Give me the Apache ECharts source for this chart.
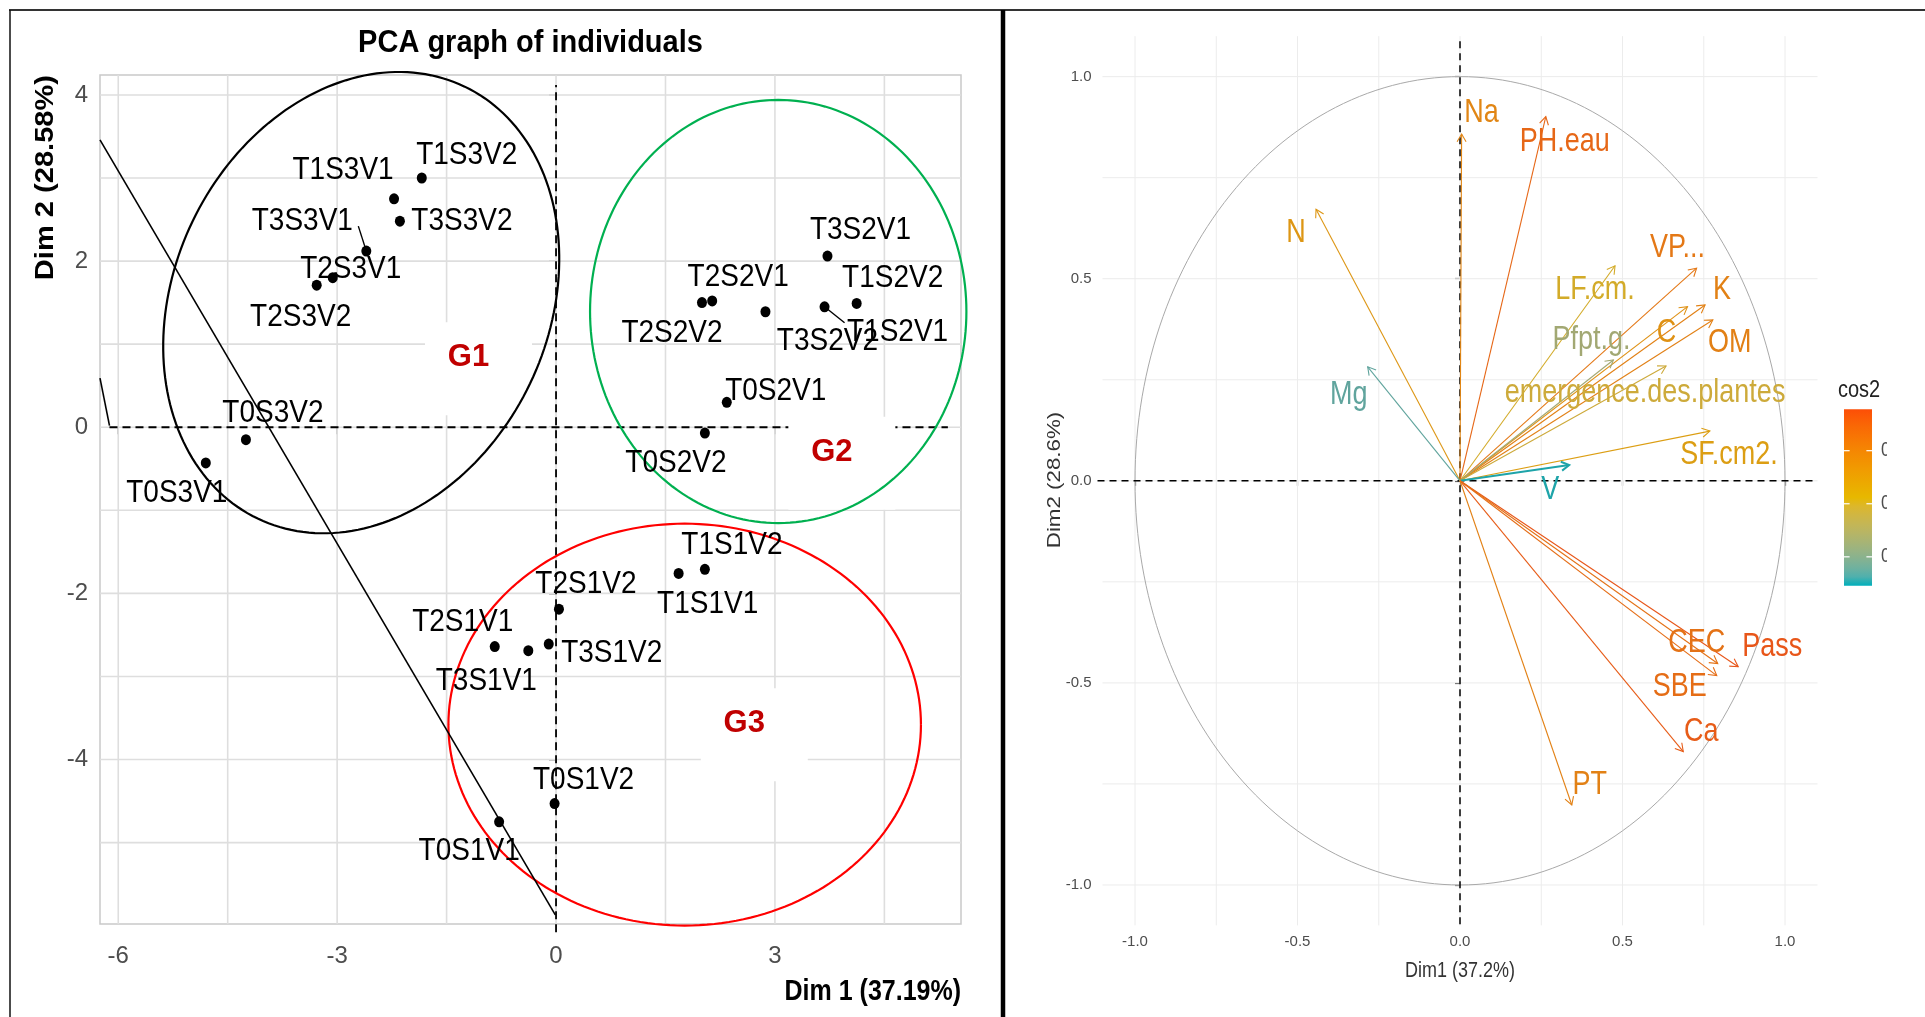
<!DOCTYPE html>
<html>
<head>
<meta charset="utf-8">
<script src="https://cdn.jsdelivr.net/npm/echarts@6/dist/echarts.min.js"></script>
<style>
  html, body { margin: 0; padding: 0; background: #fff; }
  #chart { width: 1925px; height: 1017px; }
</style>
</head>
<body>
<div id="chart"></div>
<script>
const FONT = '"Liberation Sans", Arial, Helvetica, sans-serif';

// ---------- Individuals map (Dim 1 / Dim 2 scores) ----------
const indNames = ['T1S3V2','T1S3V1','T3S3V2','T3S3V1','T2S3V1','T2S3V2','T0S3V2','T0S3V1',
  'T3S2V1','T2S2V1','T2S2V2','T3S2V2','T1S2V1','T1S2V2','T0S2V1','T0S2V2',
  'T1S1V2','T1S1V1','T2S1V2','T3S1V2','T3S1V1','T2S1V1','T0S1V2','T0S1V1'];
const indDim1 = [-1.84,-2.22,-2.14,-2.60,-3.06,-3.28,-4.25,-4.80,
  3.72,2.14,2.00,2.87,3.68,4.12,2.34,2.04,
  2.04,1.68,0.04,-0.10,-0.38,-0.84,-0.02,-0.78];
const indDim2 = [3.00,2.75,2.48,2.12,1.80,1.71,-0.15,-0.43,
  2.06,1.52,1.50,1.39,1.45,1.49,0.30,-0.07,
  -1.71,-1.76,-2.19,-2.61,-2.69,-2.64,-4.53,-4.75];
const indTicksX = [-6, -3, 0, 3];
const indTicksY = [-4, -2, 0, 2, 4];
const indMinorX = [-4.5, -1.5, 1.5, 4.5];
const indMinorY = [-5, -3, -1, 1, 3];

// cluster ellipses: centre and two conjugate semi-axes (data units)
const groupNames = ['G1', 'G2', 'G3'];
const groupCentre = [[-2.67, 1.50], [3.045, 1.393], [1.763, -3.58]];
const groupAxisA = [[1.418, 2.600], [2.579, 0], [3.238, 0]];
const groupAxisB = [[2.314, -0.974], [0, 2.547], [0, 2.419]];
const groupLabelAt = [[-1.20, 0.836], [3.78, -0.30], [2.58, -3.57]];

// separating line and reference axes
const cutLine = [[-6.25, 3.46], [-0.01, -5.87]];
const cutStub = [[-6.25, 0.59], [-6.12, 0.02]];
const refLineX = [-6.12, 5.37];
const refLineY = [-6.08, 4.12];

// ---------- Variables correlation circle ----------
const varNames = ['Na','PH.eau','N','Mg','VP...','LF.cm.','K','C','OM','Pfpt.g.',
  'emergence.des.plantes','SF.cm2.','V','Pass','CEC','SBE','Ca','PT'];
const varDim1 = [0.005,0.264,-0.443,-0.284,0.728,0.477,0.754,0.700,0.778,0.472,
  0.634,0.769,0.336,0.856,0.793,0.790,0.687,0.344];
const varDim2 = [0.858,0.901,0.672,0.282,0.526,0.532,0.435,0.431,0.398,0.299,
  0.284,0.123,0.039,-0.460,-0.452,-0.482,-0.670,-0.802];
const varCos2 = [0.736,0.881,0.648,0.160,0.807,0.511,0.758,0.676,0.763,0.312,
  0.483,0.606,0.114,0.945,0.833,0.856,0.921,0.761];
const varTicks = [-1, -0.5, 0, 0.5, 1];
const varMinor = [-0.75, -0.25, 0.25, 0.75];
const cos2Breaks = [0.25, 0.5, 0.75];

// ---------- layout / style (pixels) ----------
const indLabelNudge = [[45,-23],[-51,-28],[62,0],[-64,-30],[18,-8],[-16,32],[27,-26],[-29,30],
  [33,-26],[26,-24],[-30,31],[62,30],[73,26],[36,-25],[49,-11],[-29,30],
  [27,-24],[29,31],[27,-25],[63,9],[-42,31],[-32,-24],[29,-23],[-30,30]];
const indLeaders = { T3S3V1: [-8, -25], T1S2V1: [20, 16] };
const varLabelNudge = [[20,-21],[19,25],[-20,24],[-19,28],[-19,-20],[-20,24],[17,-15],[-21,26],[17,23],[-22,-20],
  [-21,27],[19,24],[-19,25],[34,-20],[-21,-20],[-37,11],[18,-20],[18,-20]];
const groupColours = ['#000000', '#00b050', '#ff0000'];
const gradientCols = ['#00AFBB', '#E7B800', '#FC4E07'];

// colour ramp interpolated in CIELAB
function hexRgb(h) { return [1, 3, 5].map(i => parseInt(h.slice(i, i + 2), 16)); }
function toLab(rgb) {
  const lin = rgb.map(c => { c /= 255; return c <= 0.04045 ? c / 12.92 : Math.pow((c + 0.055) / 1.055, 2.4); });
  const X = (0.4124564 * lin[0] + 0.3575761 * lin[1] + 0.1804375 * lin[2]) / 0.95047;
  const Y = (0.2126729 * lin[0] + 0.7151522 * lin[1] + 0.0721750 * lin[2]);
  const Z = (0.0193339 * lin[0] + 0.1191920 * lin[1] + 0.9503041 * lin[2]) / 1.08883;
  const f = t => t > 0.008856 ? Math.cbrt(t) : 7.787 * t + 16 / 116;
  const fx = f(X), fy = f(Y), fz = f(Z);
  return [116 * fy - 16, 500 * (fx - fy), 200 * (fy - fz)];
}
function fromLab(l) {
  const fy = (l[0] + 16) / 116, fx = fy + l[1] / 500, fz = fy - l[2] / 200;
  const fi = f => { const c = f * f * f; return c > 0.008856 ? c : (f - 16 / 116) / 7.787; };
  const X = fi(fx) * 0.95047, Y = fi(fy), Z = fi(fz) * 1.08883;
  const lin = [3.2404542 * X - 1.5371385 * Y - 0.4985314 * Z,
    -0.9692660 * X + 1.8760108 * Y + 0.0415560 * Z,
    0.0556434 * X - 0.2040259 * Y + 1.0572252 * Z];
  return lin.map(c => {
    c = c <= 0.0031308 ? 12.92 * c : 1.055 * Math.pow(c, 1 / 2.4) - 0.055;
    return Math.round(Math.max(0, Math.min(1, c)) * 255);
  });
}
const gradLab = gradientCols.map(h => toLab(hexRgb(h)));
function rampRgb(t) {
  t = Math.max(0, Math.min(1, t));
  const s = t * (gradLab.length - 1);
  const i = Math.min(Math.floor(s), gradLab.length - 2);
  const u = s - i;
  return fromLab(gradLab[i].map((v, k) => v + (gradLab[i + 1][k] - v) * u));
}
function colourAt(t) { return 'rgb(' + rampRgb(t).join(',') + ')'; }
// thin strokes and small glyphs read a little duller than the colour bar
function mutedAt(t) {
  const c = rampRgb(t), tone = [150, 118, 96];
  return 'rgb(' + c.map((v, k) => Math.round(v * 0.8 + tone[k] * 0.2)).join(',') + ')';
}
const cos2Min = Math.min(...varCos2), cos2Max = Math.max(...varCos2);
const varColour = varCos2.map(c => mutedAt((c - cos2Min) / (cos2Max - cos2Min)));

function textStyle(text, font, fill, align, vAlign) {
  return { text, font, fill, align: align || 'center', verticalAlign: vAlign || 'middle',
    textAlign: align || 'center', textVerticalAlign: vAlign || 'middle' };
}

// gridlines drawn through the axis scales
function gridLineSeries(gi, xs, ys, color, width) {
  const data = xs.map(v => [v, 0, 0]).concat(ys.map(v => [0, v, 1]));
  return {
    type: 'custom', xAxisIndex: gi, yAxisIndex: gi, z: 1, silent: true, data,
    renderItem(params, api) {
      const cs = params.coordSys;
      if (api.value(2) === 0) {
        const px = api.coord([api.value(0), 0])[0];
        return { type: 'line', shape: { x1: px, y1: cs.y, x2: px, y2: cs.y + cs.height },
          style: { stroke: color, lineWidth: width } };
      }
      const py = api.coord([0, api.value(1)])[1];
      return { type: 'line', shape: { x1: cs.x, y1: py, x2: cs.x + cs.width, y2: py },
        style: { stroke: color, lineWidth: width } };
    }
  };
}

const series = [
  gridLineSeries(0, indTicksX.concat(indMinorX), indTicksY.concat(indMinorY), '#dedede', 1.6),
  // dashed reference axes (individuals)
  {
    type: 'custom', xAxisIndex: 0, yAxisIndex: 0, z: 2, silent: true, data: [[0, 0]],
    renderItem(params, api) {
      const a = api.coord([refLineX[0], 0]), b = api.coord([refLineX[1], 0]);
      const c = api.coord([0, refLineY[0]]), d = api.coord([0, refLineY[1]]);
      const st = { stroke: '#000', lineWidth: 1.8, lineDash: [8, 5] };
      return { type: 'group', children: [
        { type: 'line', shape: { x1: a[0], y1: a[1], x2: b[0], y2: b[1] }, style: st },
        { type: 'line', shape: { x1: c[0], y1: c[1], x2: d[0], y2: d[1] }, style: st }
      ] };
    }
  },
  // group tags on white boxes
  {
    type: 'custom', xAxisIndex: 0, yAxisIndex: 0, z: 3, silent: true,
    data: groupLabelAt.map(p => [p[0], p[1]]),
    renderItem(params, api) {
      const i = params.dataIndex;
      const p = api.coord(groupLabelAt[i]);
      return { type: 'group', children: [
        { type: 'rect', shape: { x: p[0] - 43.5, y: p[1] - 35.5, width: 107, height: 93 }, style: { fill: '#fff' } },
        { type: 'text', x: p[0], y: p[1], style: textStyle(groupNames[i], 'bold 31px ' + FONT, '#c00000') }
      ] };
    }
  },
  // cluster ellipses
  {
    type: 'custom', xAxisIndex: 0, yAxisIndex: 0, z: 4, silent: true, clip: false,
    data: groupCentre.map(c => [c[0], c[1]]),
    renderItem(params, api) {
      const i = params.dataIndex;
      const c = groupCentre[i], a = groupAxisA[i], b = groupAxisB[i];
      const pts = [];
      for (let k = 0; k <= 200; k++) {
        const t = 2 * Math.PI * k / 200;
        pts.push(api.coord([c[0] + a[0] * Math.cos(t) + b[0] * Math.sin(t),
                            c[1] + a[1] * Math.cos(t) + b[1] * Math.sin(t)]));
      }
      return { type: 'polyline', shape: { points: pts }, style: { fill: 'none', stroke: groupColours[i], lineWidth: 2.2 } };
    }
  },
  // separating line
  {
    type: 'custom', xAxisIndex: 0, yAxisIndex: 0, z: 5, silent: true, clip: false,
    data: [cutLine[0], cutStub[0]],
    renderItem(params, api) {
      const seg = params.dataIndex === 0 ? cutLine : cutStub;
      const a = api.coord(seg[0]), b = api.coord(seg[1]);
      return { type: 'line', shape: { x1: a[0], y1: a[1], x2: b[0], y2: b[1] }, style: { stroke: '#000', lineWidth: 1.6 } };
    }
  },
  // individuals
  {
    type: 'scatter', xAxisIndex: 0, yAxisIndex: 0, z: 6, symbol: 'circle', symbolSize: [10, 11],
    itemStyle: { color: '#000', opacity: 1 },
    data: indDim1.map((x, i) => [x, indDim2[i]])
  },
  // individual labels
  {
    type: 'custom', xAxisIndex: 0, yAxisIndex: 0, z: 7, silent: true, clip: false,
    data: indDim1.map((x, i) => [x, indDim2[i]]),
    renderItem(params, api) {
      const i = params.dataIndex;
      const p = api.coord([indDim1[i], indDim2[i]]);
      const n = indLabelNudge[i];
      const children = [{ type: 'text', x: p[0] + n[0], y: p[1] + n[1], scaleY: 1.12,
        style: textStyle(indNames[i], '28px ' + FONT, '#000') }];
      const ld = indLeaders[indNames[i]];
      if (ld) children.push({ type: 'line', shape: { x1: p[0], y1: p[1], x2: p[0] + ld[0], y2: p[1] + ld[1] },
        style: { stroke: '#000', lineWidth: 1.4 } });
      return { type: 'group', children };
    }
  },

  // ----- correlation circle panel -----
  gridLineSeries(1, varTicks.concat(varMinor), varTicks.concat(varMinor), '#ececec', 1),
  {
    type: 'custom', xAxisIndex: 1, yAxisIndex: 1, z: 2, silent: true, data: [[0, 0]],
    renderItem(params, api) {
      const cs = params.coordSys;
      const o = api.coord([0, 0]);
      const pts = [];
      for (let k = 0; k <= 240; k++) {
        const t = 2 * Math.PI * k / 240;
        pts.push(api.coord([Math.cos(t), Math.sin(t)]));
      }
      const st = { stroke: '#000', lineWidth: 1.5, lineDash: [7, 5] };
      return { type: 'group', children: [
        { type: 'polyline', shape: { points: pts }, style: { fill: 'none', stroke: '#a9a9a9', lineWidth: 1 } },
        { type: 'line', shape: { x1: cs.x - 5, y1: o[1], x2: cs.x + cs.width - 4, y2: o[1] }, style: st },
        { type: 'line', shape: { x1: o[0], y1: cs.y + 5, x2: o[0], y2: cs.y + cs.height + 3 }, style: st }
      ] };
    }
  },
  // variable arrows
  {
    type: 'custom', xAxisIndex: 1, yAxisIndex: 1, z: 3, silent: true, clip: false,
    data: varDim1.map((x, i) => [x, varDim2[i]]),
    renderItem(params, api) {
      const i = params.dataIndex;
      const o = api.coord([0, 0]), p = api.coord([varDim1[i], varDim2[i]]);
      const col = varColour[i];
      const ang = Math.atan2(p[1] - o[1], p[0] - o[0]);
      const L = 9, A = Math.PI / 6;
      const h1 = [p[0] - L * Math.cos(ang - A), p[1] - L * Math.sin(ang - A)];
      const h2 = [p[0] - L * Math.cos(ang + A), p[1] - L * Math.sin(ang + A)];
      const w = varNames[i] === 'V' ? 2 : 1.1;
      return { type: 'group', children: [
        { type: 'line', shape: { x1: o[0], y1: o[1], x2: p[0], y2: p[1] }, style: { stroke: col, lineWidth: w } },
        { type: 'polyline', shape: { points: [h1, p, h2] }, style: { stroke: col, lineWidth: w, fill: 'none' } }
      ] };
    }
  },
  // variable labels
  {
    type: 'custom', xAxisIndex: 1, yAxisIndex: 1, z: 4, silent: true, clip: false,
    data: varDim1.map((x, i) => [x, varDim2[i]]),
    renderItem(params, api) {
      const i = params.dataIndex;
      const p = api.coord([varDim1[i], varDim2[i]]);
      const n = varLabelNudge[i];
      return { type: 'text', x: p[0] + n[0], y: p[1] + n[1], scaleY: 1.2,
        style: textStyle(varNames[i], '27px ' + FONT, varColour[i]) };
    }
  }
];

// cos2 colour bar
const bar = { x: 1844, y: 409.3, w: 28, h: 176.4 };
const barStops = [];
for (let k = 0; k <= 20; k++) barStops.push({ offset: k / 20, color: colourAt(k / 20) });
const legendEls = [
  { type: 'text', x: 1838, y: 391, scaleY: 1.15, style: textStyle('cos2', '20px ' + FONT, '#222', 'left') },
  { type: 'rect', shape: { x: bar.x, y: bar.y, width: bar.w, height: bar.h },
    style: { fill: new echarts.graphic.LinearGradient(0, 1, 0, 0, barStops) } }
];
cos2Breaks.forEach(b => {
  const y = bar.y + (cos2Max - b) / (cos2Max - cos2Min) * bar.h;
  legendEls.push({ type: 'line', shape: { x1: bar.x, y1: y, x2: bar.x + 5.6, y2: y }, style: { stroke: '#fff', lineWidth: 1.2 } });
  legendEls.push({ type: 'line', shape: { x1: bar.x + bar.w - 5.6, y1: y, x2: bar.x + bar.w, y2: y }, style: { stroke: '#fff', lineWidth: 1.2 } });
  legendEls.push({ type: 'text', x: 1881, y: y, scaleY: 1.15, style: textStyle(b.toFixed(2), '17px ' + FONT, '#4d4d4d', 'left') });
});
legendEls.push({ type: 'rect', z: 100, shape: { x: 1887, y: 370, width: 38, height: 240 }, style: { fill: '#fff' } });

const option = {
  animation: false,
  backgroundColor: '#ffffff',
  grid: [
    { left: 100, top: 75, width: 861, height: 849, show: true, borderColor: '#c9c9c9', borderWidth: 1.5, backgroundColor: 'transparent' },
    { left: 1102.5, top: 36.2, width: 715, height: 889.2, show: false }
  ],
  xAxis: [
    { gridIndex: 0, type: 'value', min: -6.25, max: 5.55,
      axisLine: { show: false }, splitLine: { show: false },
      axisTick: { show: true, length: 7, customValues: indTicksX, lineStyle: { color: '#aaaaaa', width: 1.5 } },
      axisLabel: { customValues: indTicksX, margin: 20, fontSize: 24, color: '#4d4d4d', fontFamily: FONT } },
    { gridIndex: 1, type: 'value', min: -1.1, max: 1.1,
      axisLine: { show: false }, splitLine: { show: false },
      axisTick: { show: true, length: 5, customValues: varTicks, lineStyle: { color: '#333', width: 1.2 } },
      axisLabel: { customValues: varTicks, margin: 9, fontSize: 15, color: '#4d4d4d', fontFamily: FONT,
        formatter: v => v.toFixed(1) } }
  ],
  yAxis: [
    { gridIndex: 0, type: 'value', min: -5.98, max: 4.24,
      axisLine: { show: false }, splitLine: { show: false },
      axisTick: { show: true, length: 7, customValues: indTicksY, lineStyle: { color: '#aaaaaa', width: 1.5 } },
      axisLabel: { customValues: indTicksY, margin: 12, fontSize: 24, color: '#4d4d4d', fontFamily: FONT } },
    { gridIndex: 1, type: 'value', min: -1.1, max: 1.1,
      axisLine: { show: false }, splitLine: { show: false },
      axisTick: { show: true, length: 5, customValues: varTicks, lineStyle: { color: '#333', width: 1.2 } },
      axisLabel: { customValues: varTicks, margin: 11, fontSize: 15, color: '#4d4d4d', fontFamily: FONT,
        formatter: v => v.toFixed(1) } }
  ],
  graphic: [
    // frame
    { type: 'line', shape: { x1: 9, y1: 10, x2: 1925, y2: 10 }, style: { stroke: '#333', lineWidth: 2 } },
    { type: 'line', shape: { x1: 10, y1: 10, x2: 10, y2: 1017 }, style: { stroke: '#111', lineWidth: 1.5 } },
    { type: 'line', shape: { x1: 1003, y1: 10, x2: 1003, y2: 1017 }, style: { stroke: '#000', lineWidth: 4.5 } },
    // individuals panel titles
    { type: 'text', x: 530.5, y: 43, scaleY: 1.1, style: textStyle('PCA graph of individuals', 'bold 29px ' + FONT, '#000') },
    { type: 'text', x: 961, y: 992, scaleY: 1.2, style: textStyle('Dim 1 (37.19%)', 'bold 25px ' + FONT, '#000', 'right') },
    { type: 'text', x: 46, y: 75, rotation: Math.PI / 2, scaleX: 1.14,
      style: textStyle('Dim 2 (28.58%)', 'bold 25.5px ' + FONT, '#000', 'right') },
    // variables panel titles
    { type: 'text', x: 1460, y: 971, scaleY: 1.24, style: textStyle('Dim1 (37.2%)', '18px ' + FONT, '#333') },
    { type: 'text', x: 1055, y: 480, rotation: Math.PI / 2, scaleX: 1.24,
      style: textStyle('Dim2 (28.6%)', '18px ' + FONT, '#333') }
  ].concat(legendEls),
  series
};

const chart = echarts.init(document.getElementById('chart'));
chart.setOption(option);
</script>
</body>
</html>
